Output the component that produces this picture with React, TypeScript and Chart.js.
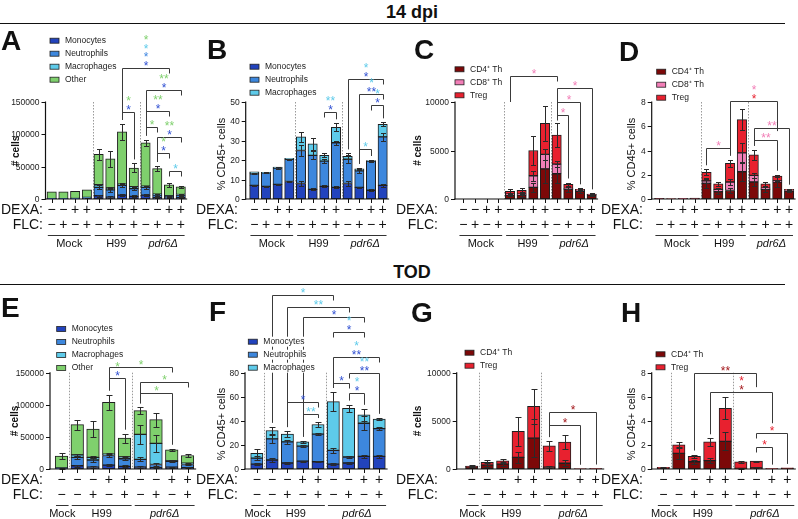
import React, { useEffect, useRef } from 'react';
import { Chart, registerables } from 'chart.js';

Chart.register(...registerables);

const FONT = '"Liberation Sans", Arial, Helvetica, sans-serif';
Chart.defaults.font.family = FONT;

// ---------- palette ----------
const MONO = '#2243bd';
const NEUT = '#3d87dd';
const MACRO = '#5ecbea';
const OTHER = '#7fd06d';
const CD4 = '#7c0808';
const CD8 = '#f27eb7';
const TREG = '#e8212f';
const S_GREEN = '#7fd06d';
const S_CYAN = '#5ecbea';
const S_BLUE = '#3f86e0';
const S_NAVY = '#3050d2';
const S_PINK = '#f27eb7';
const S_RED = '#e8212f';
const S_DRED = '#a3171b';

// ---------- treatment rows & groups ----------
const dexaTop = ['−', '−', '+', '+', '−', '−', '+', '+', '−', '−', '+', '+'];
const flcTop = ['−', '+', '−', '+', '−', '+', '−', '+', '−', '+', '−', '+'];
const dexaBottom = ['−', '−', '−', '+', '+', '−', '−', '+', '+'];
const flcBottom = ['−', '−', '+', '−', '+', '−', '+', '−', '+'];
const groupsTop = [
  { label: 'Mock', first: 0, last: 3 },
  { label: 'H99', first: 4, last: 7 },
  { label: 'pdr6Δ', first: 8, last: 11, italic: true },
];
const groupsBottom = [
  { label: 'Mock', first: 0, last: 0 },
  { label: 'H99', first: 1, last: 4 },
  { label: 'pdr6Δ', first: 5, last: 8, italic: true },
];

// ---------- y tick values ----------
const countTicks = [0, 50000, 100000, 150000];
const pctTopTicks = [0, 10, 20, 30, 40, 50];
const pctBottomTicks = [0, 20, 40, 60, 80];
const tCountTicks = [0, 5000, 10000];
const tPctTicks = [0, 2, 4, 6, 8];

// ---------- A: myeloid counts, 14 dpi ----------
const monoA = [300, 300, 400, 1500, 5000, 3000, 6000, 4000, 6000, 2000, 2000, 2000];
const monoAErr = [0, 0, 0, 500, 1500, 1000, 2000, 1500, 2000, 800, 500, 800];
const neutA = [200, 200, 300, 800, 13000, 11000, 15000, 12000, 12000, 4000, 2000, 4000];
const neutAErr = [0, 0, 0, 0, 3000, 2500, 3000, 2500, 2500, 1000, 500, 1000];
const macA = [100, 100, 100, 200, 4000, 3000, 2000, 3000, 2000, 1500, 1000, 1000];
const macAErr = [0, 0, 0, 0, 1000, 1000, 800, 1000, 800, 500, 300, 300];
const otherA = [10400, 10400, 11200, 11500, 47000, 45000, 81000, 29000, 67000, 39500, 17000, 12000];
const otherAErr = [0, 0, 0, 0, 8000, 12000, 12000, 7000, 5000, 4000, 3000, 1500];

// ---------- B: myeloid % of CD45+, 14 dpi ----------
const monoB = [7, 6.5, 7.5, 9, 8, 5, 6.5, 6, 8, 6, 4.5, 7];
const monoBErr = [0.3, 0.3, 0.3, 0.3, 1.5, 0.5, 0.5, 0.5, 1.5, 0.3, 0.5, 0.8];
const neutB = [6, 7, 8.5, 11.5, 17, 17.5, 13, 23, 12.5, 8.5, 15, 25];
const neutBErr = [0.3, 0.3, 0.3, 0.3, 3, 2, 1, 1, 2, 1, 0.5, 2];
const macB = [1, 0.2, 0.5, 0.5, 7, 6, 3, 8, 1.5, 1, 0.3, 6.5];
const macBErr = [0, 0, 0, 0, 2.5, 3, 1, 2, 1.5, 0.5, 0.3, 1];

// ---------- C: T cell counts, 14 dpi ----------
const cd4C = [0, 0, 0, 0, 400, 400, 1200, 3100, 2600, 1000, 800, 400];
const cd4CErr = [0, 0, 0, 0, 100, 150, 500, 1500, 1000, 300, 200, 100];
const cd8C = [0, 0, 0, 0, 100, 100, 1200, 1500, 1000, 100, 100, 50];
const cd8CErr = [0, 0, 0, 0, 100, 100, 500, 600, 300, 100, 50, 30];
const tregC = [0, 0, 0, 0, 300, 400, 2600, 3200, 3000, 400, 100, 50];
const tregCErr = [0, 0, 0, 0, 200, 200, 1500, 1800, 1200, 200, 100, 80];

// ---------- D: T cell % of CD45+, 14 dpi ----------
const cd4D = [0.03, 0.015, 0.02, 0.04, 1.3, 0.6, 0.7, 2.25, 1.4, 0.8, 1.4, 0.65];
const cd4DErr = [0, 0, 0, 0, 0.4, 0.2, 0.2, 0.8, 0.3, 0.2, 0.4, 0.1];
const cd8D = [0.01, 0, 0.01, 0.01, 0.2, 0.2, 0.7, 1.55, 0.55, 0.1, 0.1, 0.05];
const cd8DErr = [0, 0, 0, 0, 0.15, 0.1, 0.25, 0.8, 0.2, 0.05, 0.05, 0.03];
const tregD = [0.01, 0.005, 0.01, 0.02, 0.7, 0.45, 1.55, 2.75, 1.7, 0.35, 0.4, 0.1];
const tregDErr = [0, 0, 0, 0, 0.25, 0.15, 0.3, 0.9, 0.4, 0.15, 0.1, 0.05];

// ---------- E: myeloid counts, TOD ----------
const monoE = [800, 5000, 3000, 6000, 4000, 3000, 2000, 3000, 2000];
const monoEErr = [300, 1500, 1000, 2000, 1500, 1000, 800, 800, 500];
const neutE = [500, 13000, 11000, 15000, 12000, 12000, 5000, 9000, 5000];
const neutEErr = [0, 3000, 3000, 3000, 2500, 3000, 3000, 1500, 1000];
const macE = [500, 4000, 4000, 2000, 3000, 39000, 33000, 1000, 2000];
const macEErr = [0, 1500, 1500, 1500, 1500, 15000, 13000, 500, 500];
const otherE = [18200, 47000, 44000, 81000, 29000, 37000, 37000, 17000, 12000];
const otherEErr = [5000, 8000, 12000, 12000, 7000, 5000, 11000, 1500, 2000];

// ---------- F: myeloid % of CD45+, TOD ----------
const monoF = [4, 7.5, 5, 6.5, 6, 4, 5, 10.5, 10.5];
const monoFErr = [1, 1.5, 0.5, 0.5, 0.5, 1, 0.5, 1, 1];
const neutF = [5, 17.5, 17.5, 12.5, 23, 11.5, 5, 27.5, 23];
const neutFErr = [1.5, 3, 2, 1, 1, 2, 1, 6, 1];
const macF = [4, 7, 6.5, 3.5, 8, 40.5, 40.5, 7, 8];
const macFErr = [4, 3, 2.5, 1, 2, 8, 3, 5, 1];

// ---------- G: T cell counts, TOD ----------
const cd4G = [250, 400, 500, 1200, 3200, 200, 600, 15, 30];
const cd4GErr = [50, 200, 200, 600, 2000, 100, 300, 0, 0];
const tregG = [50, 300, 350, 2700, 3300, 2200, 2200, 10, 20];
const tregGErr = [100, 250, 200, 1500, 1800, 500, 700, 0, 0];

// ---------- H: T cell % of CD45+, TOD ----------
const cd4H = [0.1, 1.3, 0.6, 0.7, 2.3, 0.05, 0.1, 0.02, 0.06];
const cd4HErr = [0.02, 0.5, 0.15, 0.2, 0.75, 0.02, 0.05, 0, 0];
const tregH = [0.03, 0.7, 0.45, 1.55, 2.75, 0.55, 0.55, 0.01, 0.03];
const tregHErr = [0.05, 0.25, 0.15, 0.3, 0.9, 0.1, 0.05, 0, 0];

// ---------- significance brackets ----------
type Leg = 'bar' | number | undefined;
type Sig = { a: number; b: number; y: number; stars: [string, string][]; la?: Leg; lb?: Leg };

const sigA: Sig[] = [
  { a: 6, b: 10, y: 202000, stars: [['*', S_GREEN], ['*', S_CYAN], ['*', S_BLUE], ['*', S_NAVY]], la: 'bar' },
  { a: 8, b: 11, y: 168600, stars: [['**', S_GREEN], ['*', S_NAVY]], la: 'bar' },
  { a: 8, b: 10, y: 136500, stars: [['**', S_GREEN], ['*', S_NAVY]], la: 'bar' },
  { a: 6, b: 7, y: 134100, stars: [['*', S_GREEN], ['*', S_NAVY]], lb: 'bar' },
  { a: 8, b: 9, y: 111800, stars: [['*', S_GREEN]], la: 'bar' },
  { a: 9, b: 11, y: 96300, stars: [['**', S_GREEN], ['*', S_NAVY]], la: 'bar' },
  { a: 9, b: 10, y: 70700, stars: [['*', S_GREEN], ['*', S_NAVY]], la: 'bar' },
  { a: 10, b: 11, y: 43800, stars: [['*', S_CYAN]] },
];
const sigB: Sig[] = [
  { a: 6, b: 7, y: 44.8, stars: [['**', S_CYAN], ['*', S_NAVY]], lb: 'bar' },
  { a: 8, b: 11, y: 62.1, stars: [['*', S_CYAN], ['*', S_NAVY]], la: 'bar' },
  { a: 9, b: 11, y: 54.1, stars: [['*', S_CYAN], ['**', S_NAVY]], la: 'bar' },
  { a: 10, b: 11, y: 48.2, stars: [['*', S_CYAN], ['*', S_NAVY]], lb: 'bar' },
  { a: 9, b: 10, y: 25.8, stars: [['*', S_CYAN]], lb: 'bar' },
];
const sigC: Sig[] = [
  { a: 4, b: 8, y: 12730, stars: [['*', S_PINK]], la: 10000 },
  { a: 8, b: 11, y: 11450, stars: [['*', S_PINK]], la: 'bar', lb: 'bar' },
  { a: 8, b: 10, y: 10000, stars: [['*', S_PINK]], lb: 'bar' },
  { a: 8, b: 9, y: 8680, stars: [['*', S_PINK]], lb: 'bar' },
];
const sigD: Sig[] = [
  { a: 6, b: 10, y: 8.05, stars: [['*', S_PINK], ['*', S_RED]], la: 'bar', lb: 5.6 },
  { a: 8, b: 11, y: 5.83, stars: [['**', S_PINK]], la: 'bar', lb: 'bar' },
  { a: 8, b: 10, y: 4.86, stars: [['**', S_PINK]], lb: 'bar' },
  { a: 4, b: 6, y: 4.17, stars: [['*', S_PINK]], la: 'bar', lb: 'bar' },
];
const sigE: Sig[] = [
  { a: 3, b: 7, y: 158400, stars: [['*', S_GREEN]], la: 'bar' },
  { a: 3, b: 4, y: 141200, stars: [['*', S_GREEN], ['*', S_NAVY]], la: 'bar', lb: 'bar' },
  { a: 5, b: 8, y: 136000, stars: [['*', S_GREEN]], la: 'bar' },
  { a: 5, b: 7, y: 118900, stars: [['*', S_GREEN]], la: 'bar', lb: 'bar' },
];
const sigF: Sig[] = [
  { a: 1, b: 5, y: 144.5, stars: [['*', S_CYAN]], la: 'bar' },
  { a: 2, b: 6, y: 134.8, stars: [['**', S_CYAN]], la: 'bar' },
  { a: 3, b: 7, y: 126.5, stars: [['*', S_NAVY]], la: 'bar' },
  { a: 5, b: 7, y: 114.1, stars: [['*', S_CYAN], ['*', S_NAVY]] },
  { a: 5, b: 8, y: 93.3, stars: [['*', S_CYAN], ['**', S_NAVY]], la: 'bar' },
  { a: 6, b: 8, y: 79.5, stars: [['**', S_CYAN], ['**', S_NAVY]], lb: 'bar' },
  { a: 5, b: 6, y: 71.2, stars: [['*', S_NAVY]], la: 'bar' },
  { a: 6, b: 7, y: 62.9, stars: [['*', S_CYAN], ['*', S_NAVY]], la: 'bar', lb: 'bar' },
  { a: 2, b: 4, y: 55.9, stars: [['*', S_NAVY]], la: 'bar' },
  { a: 3, b: 4, y: 45.7, stars: [['**', S_CYAN]], la: 'bar', lb: 'bar' },
];
const sigG: Sig[] = [
  { a: 5, b: 8, y: 5950, stars: [['*', S_DRED]], la: 'bar', lb: 'bar' },
  { a: 5, b: 7, y: 4570, stars: [['*', S_DRED]], la: 'bar', lb: 'bar' },
];
const sigH: Sig[] = [
  { a: 2, b: 6, y: 7.95, stars: [['**', S_DRED]], la: 'bar', lb: 6.8 },
  { a: 3, b: 7, y: 6.42, stars: [['*', S_RED], ['*', S_DRED]], la: 'bar', lb: 3.8 },
  { a: 6, b: 8, y: 2.96, stars: [['*', S_RED]], lb: 'bar' },
  { a: 6, b: 7, y: 1.8, stars: [['*', S_RED]], lb: 'bar' },
];

// ---------- panel descriptions ----------
type Series = { label: string; color: string; values: number[]; err: number[] };
type Group = { label: string; first: number; last: number; italic?: boolean };
type PanelCfg = {
  id: string;
  box: { left: number; top: number; width: number; height: number };
  axisX: number;
  c0: number;
  step: number;
  plotTop: number;
  plotBottom: number;
  barFrac: number;
  cap: number;
  ticks: number[];
  yTitle: { text: string; bold: boolean; size: number; x: number; y: number };
  legend: { x: number; y: number };
  series: Series[];
  sigs: Sig[];
  dexa: string[];
  flc: string[];
  groups: Group[];
  wide: boolean;
};

const myeloidCount = (m: number[], me: number[], n: number[], ne: number[], c: number[], ce: number[], o: number[], oe: number[]): Series[] => [
  { label: 'Monocytes', color: MONO, values: m, err: me },
  { label: 'Neutrophils', color: NEUT, values: n, err: ne },
  { label: 'Macrophages', color: MACRO, values: c, err: ce },
  { label: 'Other', color: OTHER, values: o, err: oe },
];
const myeloidPct = (m: number[], me: number[], n: number[], ne: number[], c: number[], ce: number[]): Series[] => [
  { label: 'Monocytes', color: MONO, values: m, err: me },
  { label: 'Neutrophils', color: NEUT, values: n, err: ne },
  { label: 'Macrophages', color: MACRO, values: c, err: ce },
];

const TOP = { top: 24, height: 236, plotTop: 102, plotBottom: 199, barFrac: 0.8, cap: 2.5 };
const BOT = { top: 286, height: 233, plotTop: 372.7, plotBottom: 469, barFrac: 0.8, cap: 3 };

const panels: PanelCfg[] = [
  {
    id: 'A', box: { left: 0, top: TOP.top, width: 195, height: TOP.height }, axisX: 45.5, c0: 51.7, step: 11.73,
    plotTop: TOP.plotTop, plotBottom: TOP.plotBottom, barFrac: TOP.barFrac, cap: TOP.cap, ticks: countTicks,
    yTitle: { text: '# cells', bold: true, size: 10, x: 16.7, y: 151 }, legend: { x: 50, y: 40.7 },
    series: myeloidCount(monoA, monoAErr, neutA, neutAErr, macA, macAErr, otherA, otherAErr),
    sigs: sigA, dexa: dexaTop, flc: flcTop, groups: groupsTop, wide: false,
  },
  {
    id: 'B', box: { left: 195, top: TOP.top, width: 200, height: TOP.height }, axisX: 245.7, c0: 254.3, step: 11.67,
    plotTop: TOP.plotTop, plotBottom: TOP.plotBottom, barFrac: TOP.barFrac, cap: TOP.cap, ticks: pctTopTicks,
    yTitle: { text: '% CD45+ cells', bold: false, size: 11, x: 221.7, y: 154 }, legend: { x: 250, y: 66.7 },
    series: myeloidPct(monoB, monoBErr, neutB, neutBErr, macB, macBErr),
    sigs: sigB, dexa: dexaTop, flc: flcTop, groups: groupsTop, wide: false,
  },
  {
    id: 'C', box: { left: 395, top: TOP.top, width: 205, height: TOP.height }, axisX: 455, c0: 463.3, step: 11.67,
    plotTop: TOP.plotTop, plotBottom: TOP.plotBottom, barFrac: TOP.barFrac, cap: TOP.cap, ticks: tCountTicks,
    yTitle: { text: '# cells', bold: true, size: 10, x: 418, y: 150.5 }, legend: { x: 455, y: 69.3 },
    series: [
      { label: 'CD4⁺ Th', color: CD4, values: cd4C, err: cd4CErr },
      { label: 'CD8⁺ Th', color: CD8, values: cd8C, err: cd8CErr },
      { label: 'Treg', color: TREG, values: tregC, err: tregCErr },
    ],
    sigs: sigC, dexa: dexaTop, flc: flcTop, groups: groupsTop, wide: false,
  },
  {
    id: 'D', box: { left: 600, top: TOP.top, width: 198, height: TOP.height }, axisX: 651.7, c0: 659.3, step: 11.8,
    plotTop: TOP.plotTop, plotBottom: TOP.plotBottom, barFrac: TOP.barFrac, cap: TOP.cap, ticks: tPctTicks,
    yTitle: { text: '% CD45+ cells', bold: false, size: 11, x: 631.7, y: 154 }, legend: { x: 656.7, y: 71.7 },
    series: [
      { label: 'CD4⁺ Th', color: CD4, values: cd4D, err: cd4DErr },
      { label: 'CD8⁺ Th', color: CD8, values: cd8D, err: cd8DErr },
      { label: 'Treg', color: TREG, values: tregD, err: tregDErr },
    ],
    sigs: sigD, dexa: dexaTop, flc: flcTop, groups: groupsTop, wide: false,
  },
  {
    id: 'E', box: { left: 0, top: BOT.top, width: 200, height: BOT.height }, axisX: 50, c0: 61.5, step: 15.75,
    plotTop: BOT.plotTop, plotBottom: BOT.plotBottom, barFrac: BOT.barFrac, cap: BOT.cap, ticks: countTicks,
    yTitle: { text: '# cells', bold: true, size: 10, x: 15, y: 421 }, legend: { x: 56.7, y: 329 },
    series: myeloidCount(monoE, monoEErr, neutE, neutEErr, macE, macEErr, otherE, otherEErr),
    sigs: sigE, dexa: dexaBottom, flc: flcBottom, groups: groupsBottom, wide: true,
  },
  {
    id: 'F', box: { left: 195, top: BOT.top, width: 200, height: BOT.height }, axisX: 245, c0: 256.8, step: 15.3,
    plotTop: BOT.plotTop, plotBottom: BOT.plotBottom, barFrac: BOT.barFrac, cap: BOT.cap, ticks: pctBottomTicks,
    yTitle: { text: '% CD45+ cells', bold: false, size: 11, x: 221.7, y: 424 }, legend: { x: 248.3, y: 341.7 },
    series: myeloidPct(monoF, monoFErr, neutF, neutFErr, macF, macFErr),
    sigs: sigF, dexa: dexaBottom, flc: flcBottom, groups: groupsBottom, wide: true,
  },
  {
    id: 'G', box: { left: 395, top: BOT.top, width: 212, height: BOT.height }, axisX: 456.7, c0: 471.7, step: 15.5,
    plotTop: BOT.plotTop, plotBottom: BOT.plotBottom, barFrac: BOT.barFrac, cap: BOT.cap, ticks: tCountTicks,
    yTitle: { text: '# cells', bold: true, size: 10, x: 418.3, y: 421 }, legend: { x: 465, y: 352.7 },
    series: [
      { label: 'CD4⁺ Th', color: CD4, values: cd4G, err: cd4GErr },
      { label: 'Treg', color: TREG, values: tregG, err: tregGErr },
    ],
    sigs: sigG, dexa: dexaBottom, flc: flcBottom, groups: groupsBottom, wide: true,
  },
  {
    id: 'H', box: { left: 600, top: BOT.top, width: 198, height: BOT.height }, axisX: 651.7, c0: 663.3, step: 15.5,
    plotTop: BOT.plotTop, plotBottom: BOT.plotBottom, barFrac: BOT.barFrac, cap: BOT.cap, ticks: tPctTicks,
    yTitle: { text: '% CD45+ cells', bold: false, size: 11, x: 631.7, y: 424 }, legend: { x: 656, y: 354.3 },
    series: [
      { label: 'CD4⁺ Th', color: CD4, values: cd4H, err: cd4HErr },
      { label: 'Treg', color: TREG, values: tregH, err: tregHErr },
    ],
    sigs: sigH, dexa: dexaBottom, flc: flcBottom, groups: groupsBottom, wide: true,
  },
];

// ---------- drawing helpers ----------
const stackTop = (series: Series[], upto: number, j: number) => {
  let s = 0;
  for (let k = 0; k <= upto; k++) s += series[k].values[j];
  return s;
};
const barReach = (series: Series[], j: number) => {
  let m = 0;
  series.forEach((s, k) => {
    m = Math.max(m, stackTop(series, k, j) + (s.err[j] || 0));
  });
  return m;
};
const crisp = (v: number) => Math.round(v) + 0.5;

function decorPlugin(cfg: PanelCfg) {
  return {
    id: 'decor' + cfg.id,
    beforeDatasetsDraw(chart: any) {
      const ctx: CanvasRenderingContext2D = chart.ctx;
      const xs = chart.scales.x;
      const area = chart.chartArea;
      ctx.save();
      // dotted separators between infection groups
      ctx.strokeStyle = '#9a9a9a';
      ctx.lineWidth = 1;
      ctx.setLineDash([1.5, 1.5]);
      for (let g = 0; g < cfg.groups.length - 1; g++) {
        const xv = (cfg.groups[g].last + cfg.groups[g + 1].first) / 2;
        const px = crisp(xs.getPixelForValue(xv));
        ctx.beginPath();
        ctx.moveTo(px, area.top);
        ctx.lineTo(px, area.bottom);
        ctx.stroke();
      }
      ctx.restore();
    },
    afterDatasetsDraw(chart: any) {
      const ctx: CanvasRenderingContext2D = chart.ctx;
      const xs = chart.scales.x;
      const ys = chart.scales.y;
      const area = chart.chartArea;
      const n = cfg.dexa.length;
      ctx.save();

      // error bars on every stacked segment
      ctx.strokeStyle = '#2a2a2a';
      ctx.lineWidth = 1;
      cfg.series.forEach((s, si) => {
        s.values.forEach((_, j) => {
          const e = s.err[j];
          if (!e) return;
          const top = stackTop(cfg.series, si, j);
          const px = crisp(xs.getPixelForValue(j));
          const y1 = crisp(ys.getPixelForValue(top + e));
          const y2 = crisp(ys.getPixelForValue(Math.max(0, top - e)));
          ctx.beginPath();
          ctx.moveTo(px, y1);
          ctx.lineTo(px, y2);
          ctx.moveTo(px - cfg.cap, y1);
          ctx.lineTo(px + cfg.cap, y1);
          ctx.moveTo(px - cfg.cap, y2);
          ctx.lineTo(px + cfg.cap, y2);
          ctx.stroke();
        });
      });

      // y axis: line, outward ticks and labels
      ctx.strokeStyle = '#111';
      ctx.lineWidth = 1.2;
      ctx.beginPath();
      ctx.moveTo(area.left, area.top - 0.5);
      ctx.lineTo(area.left, area.bottom + 0.6);
      ctx.stroke();
      ctx.lineWidth = 1;
      ctx.font = `8.5px ${FONT}`;
      ctx.fillStyle = '#222';
      ctx.textAlign = 'right';
      ctx.textBaseline = 'middle';
      cfg.ticks.forEach((v) => {
        const py = crisp(ys.getPixelForValue(v));
        ctx.beginPath();
        ctx.moveTo(area.left - 4, py);
        ctx.lineTo(area.left, py);
        ctx.stroke();
        ctx.fillText(String(v), area.left - 6, py);
      });

      // x axis with small ticks under each bar
      ctx.lineWidth = 1.2;
      ctx.beginPath();
      ctx.moveTo(area.left - 0.6, area.bottom);
      ctx.lineTo(area.right, area.bottom);
      ctx.stroke();
      ctx.lineWidth = 1;
      ctx.beginPath();
      for (let j = 0; j < n; j++) {
        const px = crisp(xs.getPixelForValue(j));
        ctx.moveTo(px, area.bottom);
        ctx.lineTo(px, area.bottom + 4);
      }
      ctx.stroke();
      ctx.restore();
    },
    afterDraw(chart: any) {
      const ctx: CanvasRenderingContext2D = chart.ctx;
      const xs = chart.scales.x;
      const ys = chart.scales.y;
      const area = chart.chartArea;
      const ox = cfg.box.left;
      const oy = cfg.box.top;
      ctx.save();

      // significance brackets
      ctx.strokeStyle = '#3a3a3a';
      ctx.lineWidth = 1;
      const legEnd = (leg: Leg, idx: number, yl: number) => {
        if (leg === undefined) return yl + 5;
        if (leg === 'bar') return ys.getPixelForValue(barReach(cfg.series, idx)) - 4;
        return ys.getPixelForValue(leg);
      };
      cfg.sigs.forEach((s) => {
        const xa = crisp(xs.getPixelForValue(s.a));
        const xb = crisp(xs.getPixelForValue(s.b));
        const yl = crisp(ys.getPixelForValue(s.y));
        ctx.beginPath();
        ctx.moveTo(xa, legEnd(s.la, s.a, yl));
        ctx.lineTo(xa, yl);
        ctx.lineTo(xb, yl);
        ctx.lineTo(xb, legEnd(s.lb, s.b, yl));
        ctx.stroke();
        ctx.font = `12px ${FONT}`;
        ctx.textAlign = 'center';
        ctx.textBaseline = 'alphabetic';
        const xm = (xa + xb) / 2;
        const k = s.stars.length;
        s.stars.forEach(([t, c], i) => {
          const cy = yl - 5.5 - (k - 1 - i) * 8.5;
          ctx.fillStyle = c;
          ctx.fillText(t, xm, cy + 6.9);
        });
      });

      // legend
      const lx = cfg.legend.x - ox;
      const ly = cfg.legend.y - oy;
      ctx.font = `8.5px ${FONT}`;
      cfg.series.forEach((s, i) => {
        const cy = ly + i * 13;
        const w = ctx.measureText(s.label).width;
        ctx.fillStyle = '#fff';
        ctx.fillRect(lx + 13, cy - 5, w + 4, 10);
        ctx.fillStyle = s.color;
        ctx.fillRect(lx, cy - 2.5, 9, 5);
        ctx.strokeStyle = '#222';
        ctx.lineWidth = 0.8;
        ctx.strokeRect(lx, cy - 2.5, 9, 5);
        ctx.fillStyle = '#222';
        ctx.textAlign = 'left';
        ctx.textBaseline = 'middle';
        ctx.fillText(s.label, lx + 15, cy);
      });

      // y axis title
      ctx.save();
      ctx.translate(cfg.yTitle.x - ox, cfg.yTitle.y - oy);
      ctx.rotate(-Math.PI / 2);
      ctx.font = `${cfg.yTitle.bold ? 'bold ' : ''}${cfg.yTitle.size}px ${FONT}`;
      ctx.fillStyle = '#111';
      ctx.textAlign = 'center';
      ctx.textBaseline = 'middle';
      ctx.fillText(cfg.yTitle.text, 0, 0);
      ctx.restore();

      // treatment rows
      const r1 = area.bottom + 11;
      const r2 = area.bottom + 26;
      ctx.font = `14px ${FONT}`;
      ctx.fillStyle = '#111';
      ctx.textBaseline = 'middle';
      ctx.textAlign = 'right';
      ctx.fillText('DEXA:', 43, r1);
      ctx.fillText('FLC:', 43, r2);
      ctx.textAlign = 'center';
      cfg.dexa.forEach((t, j) => ctx.fillText(t, xs.getPixelForValue(j), r1));
      cfg.flc.forEach((t, j) => ctx.fillText(t, xs.getPixelForValue(j), r2));

      // infection groups
      const gl = crisp(area.bottom + 36);
      const gt = area.bottom + 44.5;
      ctx.strokeStyle = '#333';
      ctx.lineWidth = 1;
      cfg.groups.forEach((g) => {
        const lo = cfg.wide ? g.first - 0.35 : g.first - 0.33;
        const hi = cfg.wide ? g.last + 0.45 : g.last + 0.33;
        const x1 = xs.getPixelForValue(lo);
        const x2 = xs.getPixelForValue(hi);
        ctx.beginPath();
        ctx.moveTo(x1, gl);
        ctx.lineTo(x2, gl);
        ctx.stroke();
        ctx.font = `${g.italic ? 'italic ' : ''}11px ${FONT}`;
        ctx.fillStyle = '#111';
        ctx.textAlign = 'center';
        ctx.textBaseline = 'middle';
        ctx.fillText(g.label, (x1 + x2) / 2, gt);
      });
      ctx.restore();
    },
  };
}

function buildConfig(cfg: PanelCfg): any {
  const n = cfg.dexa.length;
  const { left, top, width, height } = cfg.box;
  const xMin = -(cfg.c0 - cfg.axisX) / cfg.step;
  const xMax = n - 1 + 0.55;
  const plotRight = cfg.c0 + xMax * cfg.step;
  const yMax = cfg.ticks[cfg.ticks.length - 1];
  return {
    type: 'bar',
    data: {
      datasets: cfg.series.map((s) => ({
        label: s.label,
        data: s.values.map((v, i) => ({ x: i, y: v })),
        backgroundColor: s.color,
        borderColor: '#1e1e1e',
        borderWidth: 1,
        borderSkipped: false,
        barThickness: cfg.step * cfg.barFrac,
        stack: 'cells',
      })),
    },
    options: {
      responsive: false,
      maintainAspectRatio: false,
      animation: false,
      devicePixelRatio: 1,
      layout: {
        autoPadding: false,
        padding: {
          left: cfg.axisX - left,
          top: cfg.plotTop - top,
          right: left + width - plotRight,
          bottom: top + height - cfg.plotBottom,
        },
      },
      plugins: { legend: { display: false }, tooltip: { enabled: false }, title: { display: false } },
      scales: {
        x: {
          type: 'linear',
          display: false,
          offset: false,
          min: xMin,
          max: xMax,
          stacked: true,
          ticks: { display: false },
          grid: { display: false },
        },
        y: {
          type: 'linear',
          display: false,
          min: 0,
          max: yMax,
          stacked: true,
          ticks: { display: false },
          grid: { display: false },
        },
      },
    },
    plugins: [decorPlugin(cfg)],
  };
}

function PanelChart({ cfg }: { cfg: PanelCfg }) {
  const ref = useRef<HTMLCanvasElement>(null);
  useEffect(() => {
    if (!ref.current) return;
    const chart = new Chart(ref.current, buildConfig(cfg));
    return () => chart.destroy();
  }, [cfg]);
  const { left, top, width, height } = cfg.box;
  return (
    <div style={{ position: 'absolute', left, top, width, height }}>
      <canvas ref={ref} width={width} height={height} style={{ display: 'block', width, height }} />
    </div>
  );
}

const letters = [
  { t: 'A', x: 1, y: 27 },
  { t: 'B', x: 207, y: 36 },
  { t: 'C', x: 414, y: 36 },
  { t: 'D', x: 619, y: 38 },
  { t: 'E', x: 1, y: 294 },
  { t: 'F', x: 209, y: 298 },
  { t: 'G', x: 411, y: 299 },
  { t: 'H', x: 621, y: 299 },
];

export default function App() {
  const abs = (extra: React.CSSProperties): React.CSSProperties => ({ position: 'absolute', ...extra });
  return (
    <div
      style={{
        position: 'fixed',
        left: 0,
        top: 0,
        width: 798,
        height: 519,
        background: '#fff',
        overflow: 'hidden',
        fontFamily: FONT,
        color: '#111',
      }}
    >
      <div style={abs({ left: 312, top: 1, width: 200, textAlign: 'center', fontSize: 18, fontWeight: 'bold', lineHeight: '22px' })}>
        14 dpi
      </div>
      <div style={abs({ left: 0, top: 22.5, width: 785, height: 1.5, background: '#111' })} />
      <div style={abs({ left: 312, top: 261, width: 200, textAlign: 'center', fontSize: 18, fontWeight: 'bold', lineHeight: '22px' })}>
        TOD
      </div>
      <div style={abs({ left: 0, top: 283.5, width: 785, height: 1.5, background: '#111' })} />
      {panels.map((p) => (
        <PanelChart key={p.id} cfg={p} />
      ))}
      {letters.map((l) => (
        <div key={l.t} style={abs({ left: l.x, top: l.y, fontSize: 28, fontWeight: 'bold', lineHeight: '28px' })}>
          {l.t}
        </div>
      ))}
    </div>
  );
}
